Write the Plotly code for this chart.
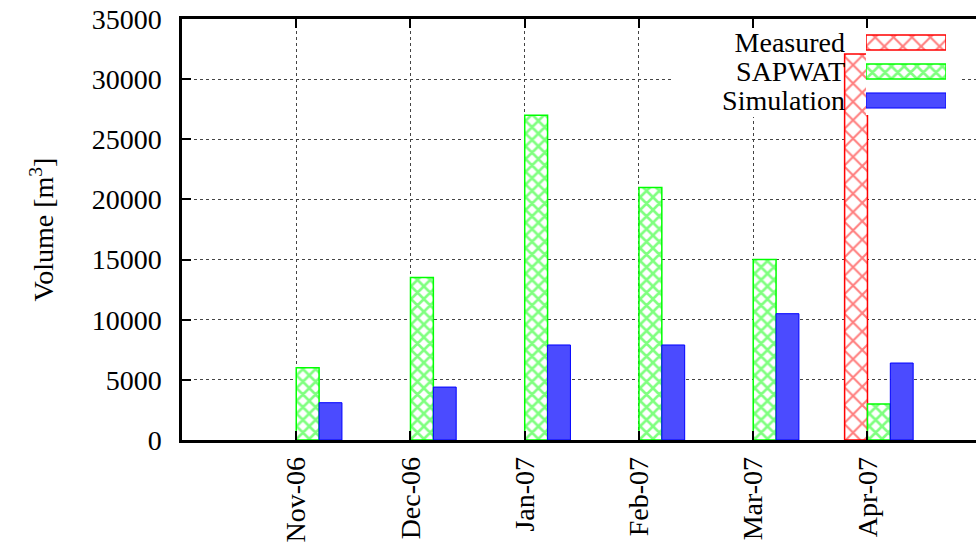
import plotly.graph_objects as go

# Monthly irrigation volumes, Nov 2006 - Apr 2007
months = ["Nov-06", "Dec-06", "Jan-07", "Feb-07", "Mar-07", "Apr-07"]
measured = [None, None, None, None, None, 32100]
sapwat = [6000, 13500, 27000, 21000, 15000, 3000]
simulation = [3100, 4400, 7900, 7900, 10500, 6400]

series_names = ["Measured", "SAPWAT", "Simulation"]
y_ticks = [0, 5000, 10000, 15000, 20000, 25000, 30000, 35000]

FONT = "Liberation Serif"
RED = "#ff0000"
GREEN = "#00ff00"
BLUE_FILL = "#4b4bff"
BLUE_LINE = "#0000ff"

styles = {
    "Measured": dict(
        color="white",
        line=dict(color=RED, width=1.5),
        pattern=dict(shape="x", fgcolor=RED, bgcolor="white", size=13, solidity=0.3, fillmode="overlay"),
    ),
    "SAPWAT": dict(
        color="white",
        line=dict(color=GREEN, width=1.5),
        pattern=dict(shape="x", fgcolor=GREEN, bgcolor="white", size=9, solidity=0.5, fillmode="overlay"),
    ),
    "Simulation": dict(
        color=BLUE_FILL,
        line=dict(color=BLUE_LINE, width=1),
    ),
}

fig = go.Figure()

# bars: measured left of the month line, SAPWAT and simulation to its right
offsets = {"Measured": -0.2, "SAPWAT": 0.0, "Simulation": 0.2}
for name, vals in zip(series_names, [measured, sapwat, simulation]):
    fig.add_trace(go.Bar(
        x=months, y=vals, name=name,
        width=0.2, offset=offsets[name],
        marker=styles[name],
        showlegend=False,
    ))

# key samples drawn on a small overlay axis in the upper right corner
for name in series_names:
    fig.add_trace(go.Bar(
        x=[1], y=[name], orientation="h", width=0.52,
        marker=styles[name],
        xaxis="x2", yaxis="y2", showlegend=False, hoverinfo="skip",
    ))

W, H = 976, 553
ML, MR, MT, MB = 182, 0, 19, 113
pw = W - ML - MR
ph = H - MT - MB
X_RANGE = [-1.0, 5.95]
Y_RANGE = [0, 35000]

def px_x(x):
    return (x - ML) / pw

def px_y(y):
    return (H - MB - y) / ph

def data_x(x):
    return X_RANGE[0] + px_x(x) * (X_RANGE[1] - X_RANGE[0])

def data_y(y):
    return Y_RANGE[0] + px_y(y) * (Y_RANGE[1] - Y_RANGE[0])

fig.update_layout(
    width=W, height=H,
    margin=dict(l=ML, r=MR, t=MT, b=MB, pad=0),
    paper_bgcolor="white", plot_bgcolor="white",
    barmode="overlay",
    font=dict(family=FONT, size=28, color="black"),
    xaxis=dict(
        type="category", categoryorder="array", categoryarray=months,
        range=X_RANGE,
        tickangle=-90,
        ticks="inside", ticklen=9, tickwidth=1.5, tickcolor="black",
        showline=True, linewidth=2.5, linecolor="black", mirror="ticks",
        showgrid=True, griddash="dot", gridcolor="#444", gridwidth=1,
        ticklabelstandoff=3,
        tickfont=dict(family=FONT, size=28),
        automargin=False, zeroline=False,
    ),
    yaxis=dict(
        range=Y_RANGE,
        tickmode="array", tickvals=y_ticks, ticktext=[str(v) for v in y_ticks],
        ticks="inside", ticklen=9, tickwidth=1.5, tickcolor="black",
        showline=True, linewidth=2.5, linecolor="black",
        showgrid=True, griddash="dot", gridcolor="#444", gridwidth=1,
        ticklabelstandoff=12,
        tickfont=dict(family=FONT, size=28),
        title=dict(text="Volume [m<sup>3</sup>]", font=dict(family=FONT, size=28), standoff=30),
        automargin=False, zeroline=False,
    ),
    xaxis2=dict(
        domain=[px_x(866), px_x(946)], range=[0, 1], anchor="y2",
        visible=False, fixedrange=True,
    ),
    yaxis2=dict(
        domain=[px_y(115), px_y(28)], range=[2.5, -0.5], anchor="x2",
        type="category", categoryorder="array", categoryarray=series_names,
        tickmode="array", tickvals=series_names, ticktext=series_names,
        showline=False, showgrid=False, zeroline=False, ticks="",
        ticklabelstandoff=20,
        tickfont=dict(family=FONT, size=28),
        automargin=False, fixedrange=True,
    ),
    shapes=[
        # opaque key background hiding the grid behind it
        dict(type="rect", xref="x", yref="y",
             x0=data_x(673), x1=data_x(962), y0=data_y(117), y1=data_y(21),
             fillcolor="white", line=dict(width=0), layer="between"),
    ],
)

fig.write_html("out.html")
